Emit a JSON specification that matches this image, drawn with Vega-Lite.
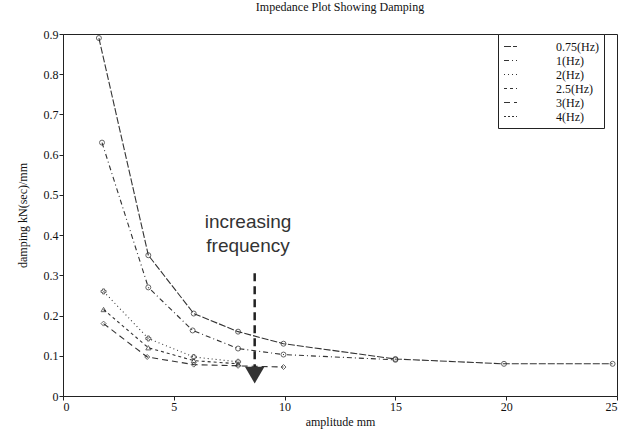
{
  "$schema": "https://vega.github.io/schema/vega-lite/v6.json",
  "width": 554,
  "height": 362,
  "autosize": {"type": "none"},
  "padding": {"left": 63, "top": 34, "right": 7, "bottom": 38},
  "background": "white",
  "title": {"text": "Impedance Plot Showing Damping", "font": "Liberation Serif", "fontSize": 12, "fontWeight": "normal", "color": "#111", "offset": 14},
  "config": {
    "view": {"stroke": "#222", "strokeWidth": 1},
    "axis": {"grid": false, "domainColor": "#222", "tickColor": "#222", "labelFont": "Liberation Serif", "labelFontSize": 12, "labelColor": "#111", "titleFont": "Liberation Serif", "titleFontSize": 12, "titleFontWeight": "normal", "titleColor": "#111", "tickSize": 4}
  },
  "resolve": {"legend": {"strokeDash": "independent", "shape": "independent"}},
  "datasets": {
    "curves": [
      {"freq": "0.75(Hz)", "amp": 1.62, "damp": 0.89},
      {"freq": "0.75(Hz)", "amp": 3.85, "damp": 0.35},
      {"freq": "0.75(Hz)", "amp": 5.9, "damp": 0.205},
      {"freq": "0.75(Hz)", "amp": 7.9, "damp": 0.16},
      {"freq": "0.75(Hz)", "amp": 9.95, "damp": 0.13},
      {"freq": "0.75(Hz)", "amp": 15, "damp": 0.092},
      {"freq": "0.75(Hz)", "amp": 19.9, "damp": 0.08},
      {"freq": "0.75(Hz)", "amp": 24.8, "damp": 0.08},
      {"freq": "1(Hz)", "amp": 1.76, "damp": 0.63},
      {"freq": "1(Hz)", "amp": 3.85, "damp": 0.27},
      {"freq": "1(Hz)", "amp": 5.85, "damp": 0.163},
      {"freq": "1(Hz)", "amp": 7.9, "damp": 0.118},
      {"freq": "1(Hz)", "amp": 9.95, "damp": 0.103},
      {"freq": "1(Hz)", "amp": 15, "damp": 0.09},
      {"freq": "2(Hz)", "amp": 1.83, "damp": 0.26},
      {"freq": "2(Hz)", "amp": 3.85, "damp": 0.143},
      {"freq": "2(Hz)", "amp": 5.9, "damp": 0.097},
      {"freq": "2(Hz)", "amp": 7.9, "damp": 0.085},
      {"freq": "2.5(Hz)", "amp": 1.83, "damp": 0.215},
      {"freq": "2.5(Hz)", "amp": 3.85, "damp": 0.12},
      {"freq": "2.5(Hz)", "amp": 5.9, "damp": 0.088},
      {"freq": "2.5(Hz)", "amp": 7.9, "damp": 0.08},
      {"freq": "3(Hz)", "amp": 1.83, "damp": 0.18},
      {"freq": "3(Hz)", "amp": 3.8, "damp": 0.097},
      {"freq": "3(Hz)", "amp": 5.9, "damp": 0.078},
      {"freq": "3(Hz)", "amp": 7.9, "damp": 0.075},
      {"freq": "3(Hz)", "amp": 9.95, "damp": 0.072}
    ],
    "arrow": [{"amp": 8.65, "top": 0.305, "bottom": 0.07, "head": 0.052}],
    "labels": [
      {"amp": 8.35, "damp": 0.433, "text": "increasing"},
      {"amp": 8.35, "damp": 0.373, "text": "frequency"}
    ]
  },
  "layer": [
    {
      "data": {"name": "curves"},
      "mark": {"type": "line", "color": "#333", "strokeWidth": 1.1},
      "encoding": {
        "x": {"field": "amp", "type": "quantitative", "scale": {"domain": [0, 25], "nice": false}, "axis": {"values": [0, 5, 10, 15, 20, 25], "format": "d", "title": "amplitude  mm", "labelPadding": 1, "titlePadding": 4}},
        "y": {"field": "damp", "type": "quantitative", "scale": {"domain": [0, 0.9], "nice": false}, "axis": {"values": [0, 0.1, 0.2, 0.3, 0.4, 0.5, 0.6, 0.7, 0.8, 0.9], "format": "~g", "title": "damping  kN(sec)/mm", "labelPadding": 1, "titlePadding": 14}},
        "strokeDash": {
          "field": "freq", "type": "nominal",
          "scale": {"domain": ["0.75(Hz)", "1(Hz)", "2(Hz)", "2.5(Hz)", "3(Hz)", "4(Hz)"], "range": [[7, 2], [5, 3, 1, 3], [1, 3], [3, 3], [6, 4], [2, 2]]},
          "legend": {"title": null, "orient": "none", "legendX": 435, "legendY": 0, "direction": "vertical", "columns": 1, "gridAlign": "all", "strokeColor": "#222", "fillColor": "white", "padding": 5, "labelFont": "Liberation Serif", "labelFontSize": 12, "labelColor": "#111", "labelAlign": "left", "symbolType": "stroke", "symbolStrokeColor": "#333", "symbolStrokeWidth": 1.1, "symbolSize": 169, "rowPadding": -1, "labelOffset": 38, "labelLimit": 80}
        }
      }
    },
    {
      "data": {"name": "curves"},
      "mark": {"type": "point", "filled": false, "color": "#222", "strokeWidth": 1, "size": 25},
      "encoding": {
        "x": {"field": "amp", "type": "quantitative"},
        "y": {"field": "damp", "type": "quantitative"},
        "shape": {"field": "freq", "type": "nominal", "scale": {"domain": ["0.75(Hz)", "1(Hz)", "2(Hz)", "2.5(Hz)", "3(Hz)", "4(Hz)"], "range": ["circle", "circle", "cross", "triangle-up", "diamond", "square"]}, "legend": null}
      }
    },
    {
      "data": {"name": "arrow"},
      "mark": {"type": "rule", "color": "#222", "strokeWidth": 2.5, "strokeDash": [8, 5]},
      "encoding": {
        "x": {"field": "amp", "type": "quantitative"},
        "y": {"field": "top", "type": "quantitative"},
        "y2": {"field": "bottom"}
      }
    },
    {
      "data": {"name": "arrow"},
      "mark": {"type": "point", "shape": "triangle-down", "filled": true, "color": "#333", "size": 380, "opacity": 1},
      "encoding": {
        "x": {"field": "amp", "type": "quantitative"},
        "y": {"field": "head", "type": "quantitative"}
      }
    },
    {
      "data": {"name": "labels"},
      "mark": {"type": "text", "font": "Liberation Sans", "fontSize": 19, "color": "#333", "align": "center", "baseline": "middle"},
      "encoding": {
        "x": {"field": "amp", "type": "quantitative"},
        "y": {"field": "damp", "type": "quantitative"},
        "text": {"field": "text"}
      }
    }
  ]
}
